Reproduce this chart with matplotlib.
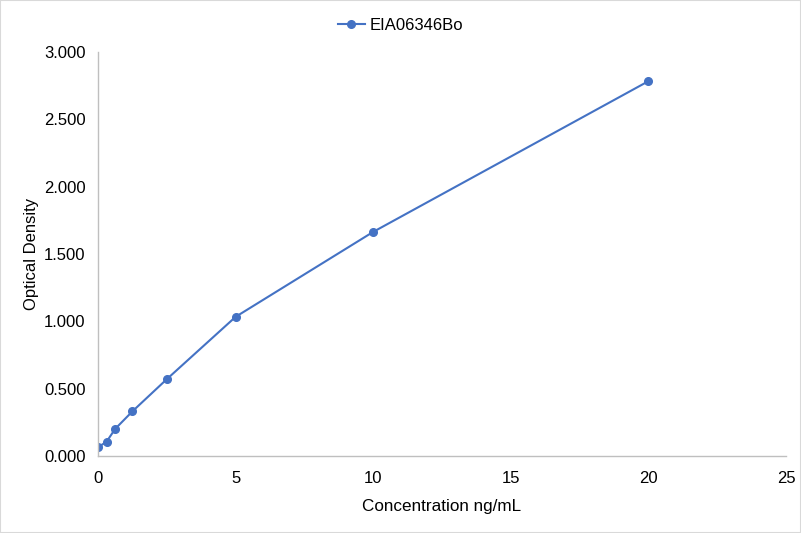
import matplotlib.pyplot as plt
from matplotlib.ticker import FormatStrFormatter

plt.rcParams['font.family'] = ['Liberation Sans', 'DejaVu Sans']

conc = [0, 0.3125, 0.625, 1.25, 2.5, 5, 10, 20]  # ng/mL
od = [0.064, 0.106, 0.201, 0.331, 0.570, 1.033, 1.664, 2.783]
series_name = "EIA06346Bo"

fig = plt.figure(figsize=(8.01, 5.33), dpi=100)
ax = fig.add_axes([0.1223, 0.1445, 0.859, 0.758])

ax.plot(conc, od, color='#4472C4', linewidth=1.5, marker='o', markersize=5.5,
        label=series_name)

ax.set_xlim(0, 25)
ax.set_ylim(0, 3)
ax.set_xticks([0, 5, 10, 15, 20, 25])
ax.set_yticks([0, 0.5, 1.0, 1.5, 2.0, 2.5, 3.0])
ax.yaxis.set_major_formatter(FormatStrFormatter('%.3f'))
ax.tick_params(axis='y', length=0, labelsize=12, colors='#000000', pad=9)
ax.tick_params(axis='x', length=0, labelsize=12, colors='#000000', pad=11)

for s in ['top', 'right']:
    ax.spines[s].set_visible(False)
for s in ['left', 'bottom']:
    ax.spines[s].set_color('#BFBFBF')
    ax.spines[s].set_linewidth(1)

ax.set_xlabel("Concentration ng/mL", fontsize=12.3, labelpad=9)
ax.set_ylabel("Optical Density", fontsize=12, labelpad=3.5)

fig.legend(loc='upper center', bbox_to_anchor=(0.5, 0.995), frameon=False,
           fontsize=12, handlelength=1.6, handletextpad=0.3)

# gray outer border like the exported chart
fig.patches.append(plt.Rectangle((0, 0), 1, 1, transform=fig.transFigure,
                                 fill=False, edgecolor='#D9D9D9', linewidth=1.5))

fig.savefig("out.png", dpi=100)
